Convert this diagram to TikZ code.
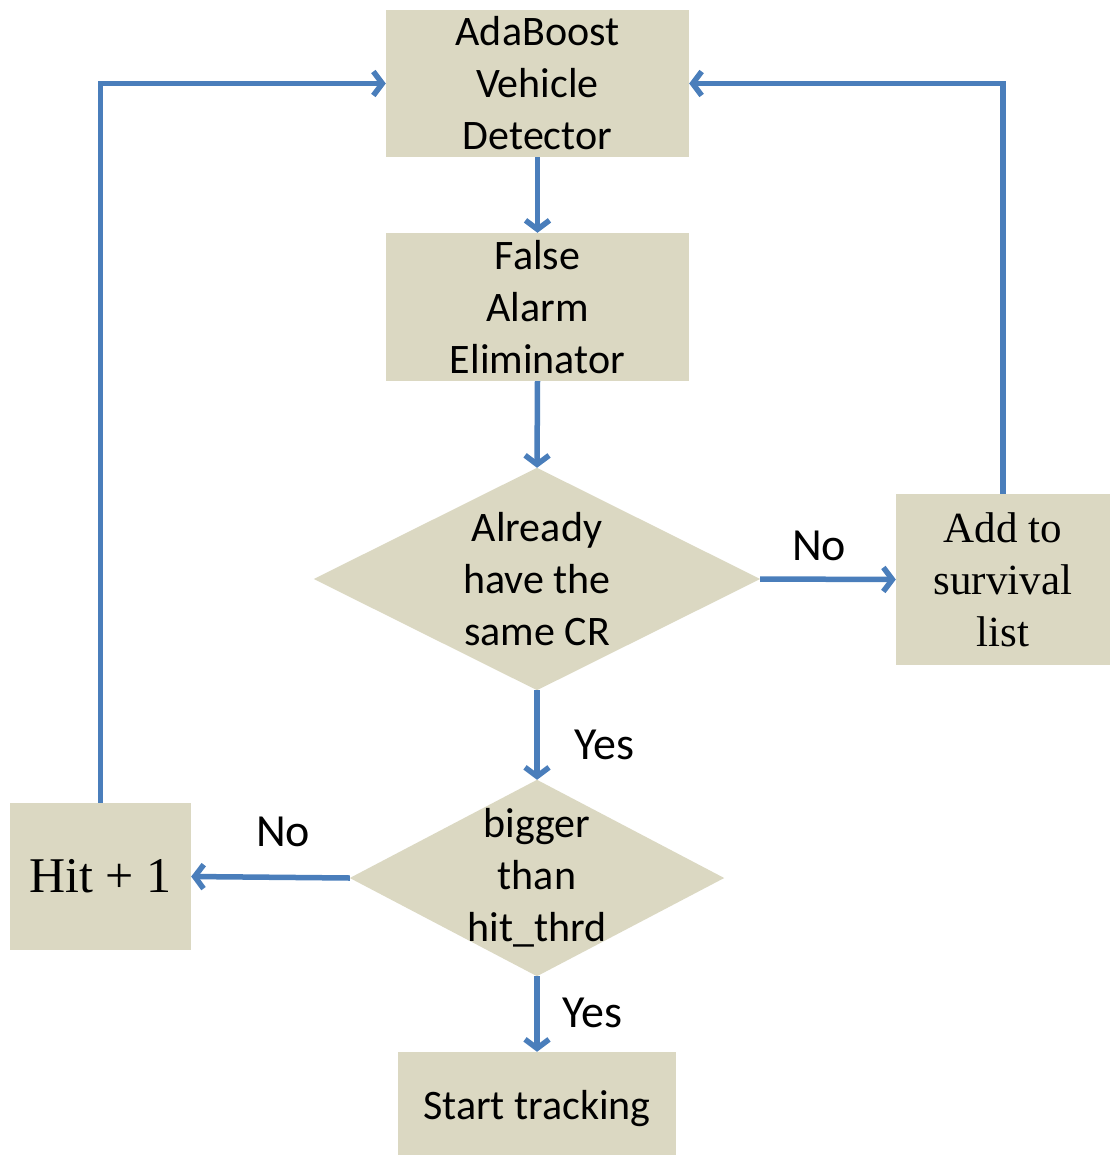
\documentclass[tikz,border=0pt]{standalone}
\usepackage{fontspec}
\setmainfont{Carlito}
\newfontfamily\tms{Liberation Serif}
\usetikzlibrary{arrows.meta,backgrounds}
\definecolor{boxfill}{HTML}{DBD8C2}
\definecolor{flowblue}{HTML}{4A7EBB}
\begin{document}
\begin{tikzpicture}[x=1pt,y=-1pt,
  box/.style={fill=boxfill,draw=none,inner sep=0pt,align=center,
    font=\fontsize{42}{52}\selectfont},
  dia/.style={draw=none,inner sep=0pt,align=center,
    font=\fontsize{42}{52}\selectfont},
  lbl/.style={inner sep=0pt,font=\fontsize{46}{52}\selectfont},
  flow/.style={draw=flowblue,line width=5.5pt,
    -{Straight Barb[length=9pt,width=24pt]}}]
\useasboundingbox (0,0) rectangle (1109,1157);

% process boxes
\node[box,minimum width=303,minimum height=147] (det) at (537.5,83.5)
  {AdaBoost\\Vehicle\\Detector};
\node[box,minimum width=303,minimum height=148] (fae) at (537.5,307)
  {False\\Alarm\\Eliminator};
\node[box,minimum width=214,minimum height=171,font=\tms\fontsize{43}{52}\selectfont]
  (surv) at (1003,579.5) {Add to\\survival\\list};
\node[box,minimum width=181,minimum height=147,font=\tms\fontsize{50}{56}\selectfont]
  (hit) at (100.5,876.5) {Hit + 1};
\node[box,minimum width=278,minimum height=103] (track) at (537,1103.5)
  {\raisebox{-16pt}[0pt][0pt]{Start tracking}};

% decisions: text nodes sized to the diamond, filled on the background layer
\node[dia,minimum width=446,minimum height=222] (same) at (537,579)
  {Already\\have the\\same CR};
\node[dia,minimum width=374,minimum height=196] (big) at (537,878)
  {bigger\\than\\hit\_thrd};
\begin{scope}[on background layer]
  \fill[boxfill] (same.west) -- (same.north) -- (same.east) -- (same.south) -- cycle;
  \fill[boxfill] (big.west) -- (big.north) -- (big.east) -- (big.south) -- cycle;
\end{scope}

% branch labels
\node[lbl] (noA) at (819,546) {No};
\node[lbl] (yesA) at (604,745) {Yes};
\node[lbl] (noB) at (283,832) {No};
\node[lbl] (yesB) at (592,1013) {Yes};

% connectors
\draw[flow] (det.south) -- (fae.north);
\draw[flow] (fae.south) -- (same.north);
\draw[flow] (same.east) -- (surv.west);
\draw[flow] (surv.north) |- (det.east);
\draw[flow] (same.south) -- (big.north);
\draw[flow] (big.west) -- (hit.east);
\draw[flow] (hit.north) |- (det.west);
\draw[flow] (big.south) -- (track.north);
\end{tikzpicture}
\end{document}
